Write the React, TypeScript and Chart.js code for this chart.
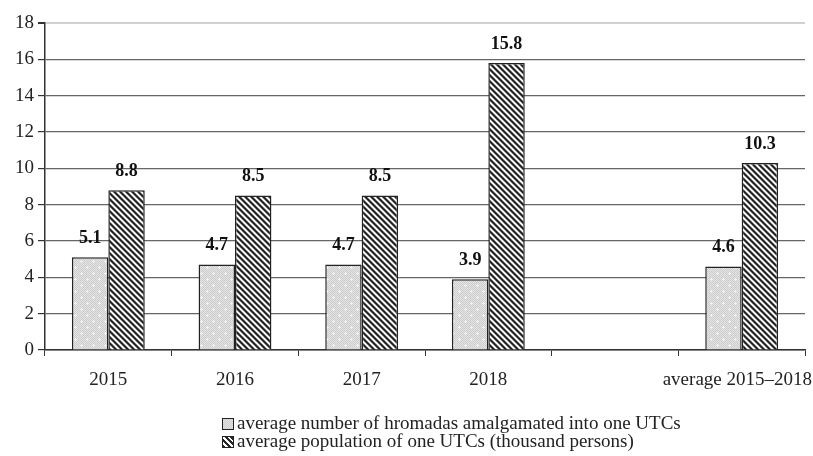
import React, { useEffect, useRef } from "react";
import { Chart, registerables } from "chart.js";

Chart.register(...registerables);

const categories = ["2015", "2016", "2017", "2018", "", "average 2015–2018"];
const hromadasPerUTC = [5.1, 4.7, 4.7, 3.9, null, 4.6];
const populationPerUTC = [8.8, 8.5, 8.5, 15.8, null, 10.3];
const seriesNames = [
  "average number of hromadas amalgamated into one UTCs",
  "average population of one UTCs (thousand persons)",
];
const yTicks = [0, 2, 4, 6, 8, 10, 12, 14, 16, 18];

const FONT = "'Liberation Serif', 'Times New Roman', serif";

function makeDotPattern(): CanvasPattern | string {
  const c = document.createElement("canvas");
  c.width = 12;
  c.height = 12;
  const ctx = c.getContext("2d");
  if (!ctx) return "#d8d8d8";
  const img = ctx.createImageData(12, 12);
  for (let y = 0; y < 12; y++) {
    for (let x = 0; x < 12; x++) {
      let v = (x + y) % 2 === 0 ? 205 : 228;
      const plus =
        (x === 3 && y >= 2 && y <= 4) || (y === 3 && x >= 2 && x <= 4) ||
        (x === 9 && y >= 8 && y <= 10) || (y === 9 && x >= 8 && x <= 10);
      if (plus) v = 245;
      const i = (y * 12 + x) * 4;
      img.data[i] = v;
      img.data[i + 1] = v;
      img.data[i + 2] = v;
      img.data[i + 3] = 255;
    }
  }
  ctx.putImageData(img, 0, 0);
  return ctx.createPattern(c, "repeat") || "#d8d8d8";
}

function makeHatchPattern(): CanvasPattern | string {
  const n = 6;
  const c = document.createElement("canvas");
  c.width = n;
  c.height = n;
  const ctx = c.getContext("2d");
  if (!ctx) return "#555";
  const img = ctx.createImageData(n, n);
  for (let y = 0; y < n; y++) {
    for (let x = 0; x < n; x++) {
      const m = (((x - y) % n) + n) % n;
      const v = m < 2 ? 35 : m === 2 || m === 5 ? 130 : 250;
      const i = (y * n + x) * 4;
      img.data[i] = v;
      img.data[i + 1] = v;
      img.data[i + 2] = v;
      img.data[i + 3] = 255;
    }
  }
  ctx.putImageData(img, 0, 0);
  return ctx.createPattern(c, "repeat") || "#555";
}

const valueLabels = {
  id: "valueLabels",
  afterDatasetsDraw(chart: any) {
    const ctx = chart.ctx;
    ctx.save();
    ctx.font = `bold 18px ${FONT}`;
    ctx.fillStyle = "#111";
    ctx.textAlign = "center";
    ctx.textBaseline = "middle";
    chart.data.datasets.forEach((ds: any, di: number) => {
      const meta = chart.getDatasetMeta(di);
      meta.data.forEach((bar: any, i: number) => {
        const v = ds.data[i];
        if (v === null || v === undefined) return;
        ctx.fillText(Number(v).toFixed(1), bar.x, bar.y - 19);
      });
    });
    ctx.restore();
  },
};

const xLabels = {
  id: "xLabels",
  afterDraw(chart: any) {
    const ctx = chart.ctx;
    const scale = chart.scales.x;
    ctx.save();
    ctx.font = `19px ${FONT}`;
    ctx.fillStyle = "#222";
    ctx.textAlign = "center";
    ctx.textBaseline = "middle";
    const y = chart.chartArea.bottom + 30;
    const labels = chart.data.labels as string[];
    labels.forEach((lab, i) => {
      if (!lab) return;
      const w = ctx.measureText(lab).width;
      let x = scale.getPixelForTick(i);
      x = Math.min(x, chart.width - 1 - w / 2);
      ctx.fillText(lab, x, y);
    });
    ctx.restore();
  },
};

function Swatch({ kind }: { kind: number }) {
  const style: React.CSSProperties =
    kind === 0
      ? {
          background:
            "repeating-conic-gradient(#cdcdcd 0% 25%, #e4e4e4 0% 50%) 0 0 / 2px 2px",
        }
      : {
          background:
            "repeating-linear-gradient(45deg, #282828 0px, #282828 2px, #ffffff 2px, #ffffff 4px)",
        };
  return (
    <span
      style={{
        display: "inline-block",
        width: 10,
        height: 10,
        border: "1px solid #222",
        marginRight: 3,
        verticalAlign: "-1px",
        ...style,
      }}
    />
  );
}

export default function App() {
  const ref = useRef<HTMLCanvasElement | null>(null);

  useEffect(() => {
    if (!ref.current) return;
    const chart = new Chart(ref.current, {
      type: "bar",
      data: {
        labels: categories,
        datasets: [
          {
            label: seriesNames[0],
            data: hromadasPerUTC as any,
            backgroundColor: makeDotPattern() as any,
            borderColor: "#222",
            borderWidth: 1.5,
          },
          {
            label: seriesNames[1],
            data: populationPerUTC as any,
            backgroundColor: makeHatchPattern() as any,
            borderColor: "#222",
            borderWidth: 1.5,
          },
        ],
      },
      options: {
        animation: false,
        responsive: false,
        devicePixelRatio: 1,
        layout: { padding: { left: 8, right: 8, top: 23, bottom: 66 } },
        plugins: {
          legend: { display: false },
          tooltip: { enabled: false },
        },
        datasets: {
          bar: { categoryPercentage: 0.575, barPercentage: 1 },
        },
        scales: {
          x: {
            offset: true,
            grid: {
              display: true,
              offset: true,
              drawOnChartArea: false,
              drawTicks: true,
              tickLength: 6,
              color: "#333",
              lineWidth: 1,
            },
            border: { display: true, color: "#333", width: 1.5 },
            ticks: {
              display: false,
              autoSkip: false,
            },
            afterFit: (s: any) => {
              s.height = 40;
              s.paddingLeft = 0;
              s.paddingRight = 0;
            },
          },
          y: {
            min: 0,
            max: 18,
            afterBuildTicks: (s: any) => {
              s.ticks = yTicks.map((v) => ({ value: v }));
            },
            grid: {
              color: (c: any) => (c.tick && c.tick.value === 18 ? "#d0d0d0" : "#666"),
              lineWidth: (c: any) => (c.tick && c.tick.value === 18 ? 2 : 1.2),
              tickLength: 7,
              tickColor: "#333",
            } as any,
            border: { display: true, color: "#333", width: 1.5 },
            ticks: {
              color: "#222",
              font: { family: FONT, size: 19 },
              padding: 4,
            },
            afterFit: (s: any) => {
              s.width = 37;
              s.paddingTop = 0;
              s.paddingBottom = 0;
            },
          },
        },
      },
      plugins: [valueLabels, xLabels],
    });
    return () => chart.destroy();
  }, []);

  return (
    <div
      style={{
        position: "fixed",
        left: 0,
        top: 0,
        width: 813,
        height: 456,
        background: "#fff",
      }}
    >
      <canvas ref={ref} width={813} height={456} style={{ display: "block" }} />
      <div
        style={{
          position: "absolute",
          left: 222,
          top: 414,
          fontFamily: FONT,
          fontSize: 19,
          lineHeight: "18px",
          color: "#222",
          whiteSpace: "nowrap",
        }}
      >
        <div>
          <Swatch kind={0} />
          {seriesNames[0]}
        </div>
        <div>
          <Swatch kind={1} />
          {seriesNames[1]}
        </div>
      </div>
    </div>
  );
}
